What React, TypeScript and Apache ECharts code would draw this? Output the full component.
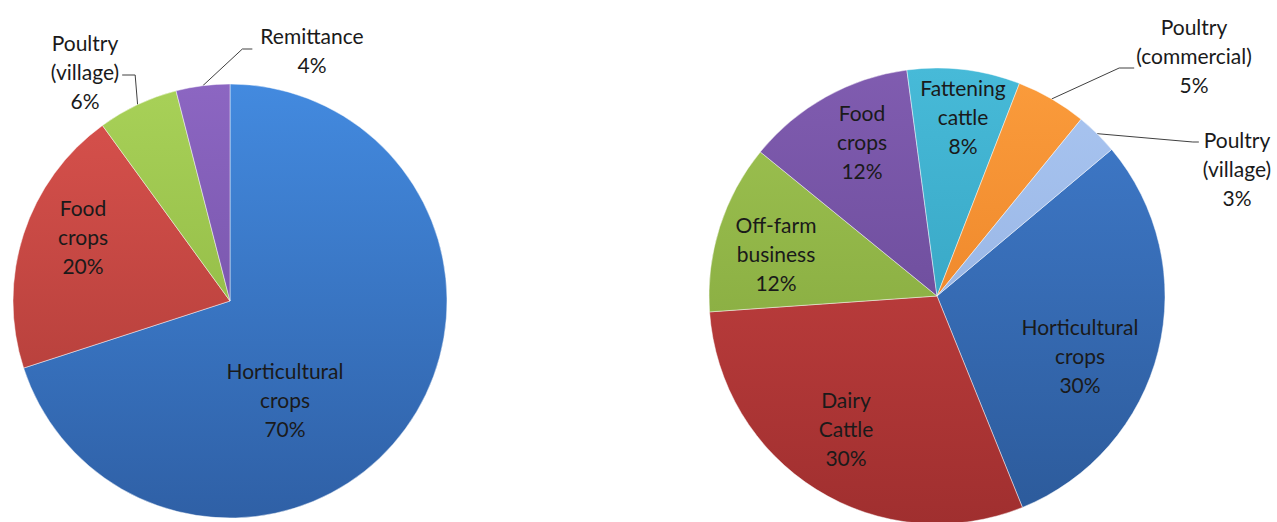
import React, { useEffect, useRef } from "react";
import * as echarts from "echarts";

// ---- data ----
const leftCategories = ["Horticultural\ncrops", "Food\ncrops", "Poultry\n(village)", "Remittance"];
const leftValues = [70, 20, 6, 4];

const rightCategories = [
  "Horticultural\ncrops",
  "Dairy\nCattle",
  "Off-farm\nbusiness",
  "Food\ncrops",
  "Fattening\ncattle",
  "Poultry\n(commercial)",
  "Poultry\n(village)",
];
const rightValues = [30, 30, 12, 12, 8, 5, 3];

// ---- styles / layout ----
const leftColors = [
  ["#438ADF", "#2F60A6"],
  ["#D9524D", "#A93935"],
  ["#A8D158", "#86AE3C"],
  ["#8C66C2", "#6A4A9C"],
];
const rightColors = [
  ["#407CCD", "#2C5A9A"],
  ["#CE4645", "#A02F2F"],
  ["#9FC452", "#7C9F38"],
  ["#805CB0", "#60438E"],
  ["#47BAD8", "#2C98B6"],
  ["#FB9C3C", "#E4781E"],
  ["#AAC6F1", "#8BA9DC"],
];

const LEFT = { cx: 230, cy: 301, r: 217, start: 90 };
const RIGHT = { cx: 937, cy: 296, r: 228, start: 40 };

type LineCfg = { side: "left" | "right"; y: number; gap: number; arm: number };
type LabelCfg = { x: number; y: number; line?: LineCfg };

const leftLabelCfg: LabelCfg[] = [
  { x: 285, y: 399 },
  { x: 83, y: 236 },
  { x: 85, y: 71, line: { side: "right", y: 75, gap: 3, arm: 13 } },
  { x: 312, y: 50, line: { side: "left", y: 49, gap: 8, arm: 10 } },
];
const rightLabelCfg: LabelCfg[] = [
  { x: 1080, y: 355 },
  { x: 846, y: 428 },
  { x: 776, y: 253 },
  { x: 862, y: 141 },
  { x: 963, y: 116 },
  { x: 1194, y: 55, line: { side: "left", y: 68, gap: 2, arm: 15 } },
  { x: 1237, y: 168, line: { side: "left", y: 142, gap: 4, arm: 6 } },
];

function grad(c: string[], geo: { cx: number; cy: number; r: number }) {
  return {
    type: "linear",
    x: geo.cx,
    y: geo.cy - geo.r,
    x2: geo.cx,
    y2: geo.cy + geo.r,
    global: true,
    colorStops: [
      { offset: 0, color: c[0] },
      { offset: 1, color: c[1] },
    ],
  };
}

function buildSeries(
  names: string[],
  values: number[],
  colors: string[][],
  geo: { cx: number; cy: number; r: number; start: number },
  cfg: LabelCfg[]
) {
  return {
    type: "pie",
    center: [geo.cx, geo.cy],
    radius: [0, geo.r],
    startAngle: geo.start,
    clockwise: true,
    avoidLabelOverlap: false,
    itemStyle: { borderColor: "rgba(255,255,255,0.45)", borderWidth: 1 },
    label: {
      show: true,
      formatter: "{b}\n{d}%",
      fontFamily: "Lato",
      fontSize: 21,
      lineHeight: 29,
      color: "#1a1a1a",
      align: "center",
    },
    labelLine: { lineStyle: { color: "#404040", width: 1 } },
    data: names.map((n, i) => ({
      name: n,
      value: values[i],
      itemStyle: { color: grad(colors[i], geo) },
      label: { position: cfg[i].line ? "outside" : "inside" },
      labelLine: { show: !!cfg[i].line, smooth: false },
    })),
    labelLayout: (params: any) => {
      const c = cfg[params.dataIndex];
      const out: any = { x: c.x, y: c.y, align: "center", verticalAlign: "middle" };
      if (c.line && params.labelLinePoints && params.labelLinePoints[0]) {
        const w = params.labelRect.width;
        const p0 = params.labelLinePoints[0];
        let endX: number, bendX: number;
        if (c.line.side === "right") {
          endX = c.x + w / 2 + c.line.gap;
          bendX = endX + c.line.arm;
        } else {
          endX = c.x - w / 2 - c.line.gap;
          bendX = endX - c.line.arm;
        }
        out.labelLinePoints = [
          [p0[0], p0[1]],
          [bendX, c.line.y],
          [endX, c.line.y],
        ];
      }
      return out;
    },
  };
}

export default function App() {
  const ref = useRef<HTMLDivElement>(null);
  useEffect(() => {
    if (!ref.current) return;
    const chart = echarts.init(ref.current, undefined, { renderer: "svg" });
    chart.setOption({
      animation: false,
      backgroundColor: "#ffffff",
      series: [
        buildSeries(leftCategories, leftValues, leftColors, LEFT, leftLabelCfg),
        buildSeries(rightCategories, rightValues, rightColors, RIGHT, rightLabelCfg),
      ],
    });
    return () => chart.dispose();
  }, []);
  return (
    <div
      ref={ref}
      style={{ position: "fixed", left: 0, top: 0, width: 1277, height: 522 }}
    />
  );
}
